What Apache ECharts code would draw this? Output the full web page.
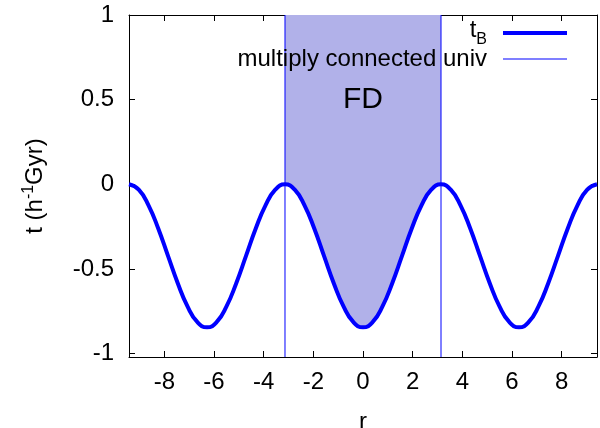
<!DOCTYPE html>
<html><head><meta charset="utf-8">
<script src="https://cdn.jsdelivr.net/npm/echarts@6/dist/echarts.min.js"></script>
<style>html,body{margin:0;padding:0;background:#fff}#c{width:600px;height:428px}</style>
</head><body><div id="c"></div>
<script>
// r samples (every pi/8 from -3pi to 3pi)
const rVals = [-9.425,-9.032,-8.639,-8.247,-7.854,-7.461,-7.069,-6.676,-6.283,-5.890,-5.498,-5.105,-4.712,-4.320,-3.927,-3.534,
  -3.142,-2.749,-2.356,-1.963,-1.571,-1.178,-0.785,-0.393,0,0.393,0.785,1.178,1.571,1.963,2.356,2.749,3.142,
  3.534,3.927,4.320,4.712,5.105,5.498,5.890,6.283,6.676,7.069,7.461,7.854,8.247,8.639,9.032,9.425];
// t_B values
const tVals = [0,-0.032,-0.124,-0.261,-0.423,-0.584,-0.721,-0.813,-0.845,-0.813,-0.721,-0.584,-0.423,-0.261,-0.124,-0.032,
  0,-0.032,-0.124,-0.261,-0.423,-0.584,-0.721,-0.813,-0.845,-0.813,-0.721,-0.584,-0.423,-0.261,-0.124,-0.032,0,
  -0.032,-0.124,-0.261,-0.423,-0.584,-0.721,-0.813,-0.845,-0.813,-0.721,-0.584,-0.423,-0.261,-0.124,-0.032,0];
const fdBounds = [-3.142, 3.142];
const xTicks = [-8,-6,-4,-2,0,2,4,6,8];
const yTicks = [-1,-0.5,0,0.5,1];
const xRange = [-9.425, 9.425];
const yRange = [-1.02, 1];
const fdText = {r: 0, t: 0.5, label: 'FD'};
const seriesNames = ['t_B', 'multiply connected univ'];

const FONT = 'Liberation Sans, Arial, Helvetica, sans-serif';
const curve = rVals.map((r, i) => [r, tVals[i]]);
const fdData = curve.filter(p => p[0] >= fdBounds[0] - 1e-6 && p[0] <= fdBounds[1] + 1e-6);

const chart = echarts.init(document.getElementById('c'), null, {renderer: 'canvas'});
const tickCommon = {show: true, inside: true, length: 6, lineStyle: {color: '#000', width: 1}};
const legendText = {fontSize: 24, fontFamily: FONT, color: '#000', padding: [0, 11, 0, 0],
  rich: {
    m: {fontSize: 24, fontFamily: FONT, color: '#000', lineHeight: 24, verticalAlign: 'top'},
    s: {fontSize: 16, fontFamily: FONT, color: '#000', lineHeight: 30, verticalAlign: 'bottom'}
  }};
const boundSeries = fdBounds.map(b => ({
  name: seriesNames[1], type: 'line', data: [[b, yRange[0]], [b, yRange[1]]], symbol: 'none',
  color: '#0000ff', lineStyle: {width: 1, color: '#0000ff'}, z: 2, silent: true
}));
chart.setOption({
  animation: false,
  backgroundColor: '#fff',
  grid: {left: 129, right: 3, top: 15, bottom: 71, containLabel: false, outerBoundsMode: 'none'},
  legend: [
    {data: [seriesNames[0]], right: 33, top: 18, orient: 'vertical', align: 'right', padding: 0,
     icon: 'rect', itemWidth: 64, itemHeight: 4, textStyle: legendText,
     formatter: () => '{m|t}{s|B}'},
    {data: [seriesNames[1]], right: 33, top: 47, orient: 'vertical', align: 'right', padding: 0,
     icon: 'rect', itemWidth: 64, itemHeight: 1,
     textStyle: {fontSize: 24, fontFamily: FONT, color: '#000', padding: [0, 11, 0, 0]}}
  ],
  xAxis: [
    {type: 'value', min: xRange[0], max: xRange[1], position: 'bottom',
     name: 'r', nameLocation: 'middle', nameGap: 53,
     nameTextStyle: {fontSize: 24, fontFamily: FONT, color: '#000'},
     axisLine: {show: true, onZero: false, lineStyle: {color: '#000', width: 1}},
     axisTick: Object.assign({customValues: xTicks}, tickCommon),
     axisLabel: {customValues: xTicks, fontSize: 24, fontFamily: FONT, color: '#000', margin: 13},
     splitLine: {show: false}},
    {type: 'value', min: xRange[0], max: xRange[1], position: 'top',
     axisLine: {show: true, onZero: false, lineStyle: {color: '#000', width: 1}},
     axisTick: Object.assign({customValues: xTicks}, tickCommon),
     axisLabel: {show: false}, splitLine: {show: false}}
  ],
  yAxis: [
    {type: 'value', min: yRange[0], max: yRange[1], position: 'left',
     name: '{m|t (h}{p|-1}{m|Gyr)}', nameLocation: 'middle', nameGap: 82, nameRotate: 90,
     nameTextStyle: {fontSize: 24, fontFamily: FONT, color: '#000',
       rich: {
         m: {fontSize: 24, fontFamily: FONT, color: '#000', lineHeight: 24, verticalAlign: 'bottom'},
         p: {fontSize: 16, fontFamily: FONT, color: '#000', lineHeight: 26, verticalAlign: 'top'}
       }},
     axisLine: {show: true, onZero: false, lineStyle: {color: '#000', width: 1}},
     axisTick: Object.assign({customValues: yTicks}, tickCommon),
     axisLabel: {customValues: yTicks, fontSize: 24, fontFamily: FONT, color: '#000', margin: 15},
     splitLine: {show: false}},
    {type: 'value', min: yRange[0], max: yRange[1], position: 'right',
     axisLine: {show: true, onZero: false, lineStyle: {color: '#000', width: 1}},
     axisTick: Object.assign({customValues: yTicks}, tickCommon),
     axisLabel: {show: false}, splitLine: {show: false}}
  ],
  series: [
    {name: 'FD region', type: 'line', data: fdData, smooth: 0.5, symbol: 'none',
     lineStyle: {width: 0}, areaStyle: {origin: 'end', color: '#b1b1e9', opacity: 1}, z: 1, silent: true,
     markPoint: {symbol: 'circle', symbolSize: 1, itemStyle: {color: 'rgba(0,0,0,0)'},
       label: {show: true, position: 'inside', formatter: fdText.label, fontSize: 30, fontFamily: FONT, color: '#000'},
       data: [{coord: [fdText.r, fdText.t]}]}}
  ].concat(boundSeries).concat([
    {name: seriesNames[0], type: 'line', data: curve, smooth: 0.5, symbol: 'none', color: '#0000ff',
     lineStyle: {width: 4, color: '#0000ff'}, z: 3}
  ])
});
</script></body></html>
